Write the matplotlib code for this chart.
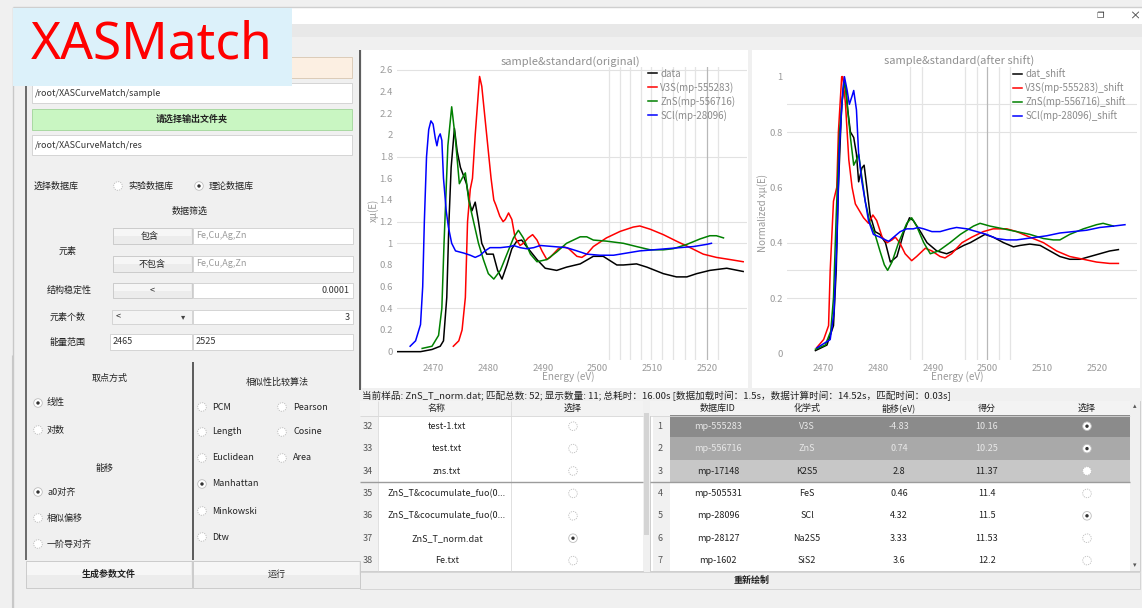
import matplotlib
matplotlib.use('Agg')
import matplotlib.pyplot as plt
from matplotlib.patches import Rectangle, Circle
from matplotlib.ticker import FuncFormatter

plt.rcParams['font.family'] = ['Noto Sans CJK SC', 'DejaVu Sans']

W, H = 1142, 608

# ---------------- data: original spectra ----------------
orig_data_x = [2463.3, 2467.6, 2469.7, 2471.2, 2471.8, 2472.4, 2472.8, 2473.2, 2473.8, 2474.3, 2474.9, 2475.5,
               2476.0, 2476.7, 2477.0, 2477.6, 2478.2, 2478.8, 2479.7, 2480.9, 2481.7, 2482.5, 2483.4, 2484.3,
               2485.2, 2486.1, 2487.0, 2488.9, 2490.4, 2492.5, 2494.3, 2496.8, 2499.2, 2501.0, 2503.5, 2504.7,
               2507.1, 2509.0, 2512.0, 2514.4, 2516.3, 2518.1, 2520.5, 2523.6, 2526.6]
orig_data_y = [0, 0, 0.02, 0.05, 0.1, 0.5, 1.2, 1.7, 2.06, 1.85, 1.7, 1.62,
               1.55, 1.35, 1.30, 1.38, 1.2, 1.0, 0.9, 0.9, 0.75, 0.67, 0.8, 0.95,
               1.02, 1.03, 0.97, 0.85, 0.77, 0.75, 0.78, 0.81, 0.88, 0.88, 0.8, 0.8,
               0.81, 0.78, 0.72, 0.69, 0.69, 0.72, 0.75, 0.77, 0.74]

orig_v3s_x = [2473.6, 2474.6, 2475.2, 2475.8, 2476.2, 2476.7, 2477.1, 2477.6, 2478.4, 2478.8, 2479.7, 2480.5,
              2481.0, 2481.4, 2482.1, 2482.7, 2483.1, 2483.7, 2484.3, 2484.9, 2485.8, 2486.4, 2487.3, 2488.1,
              2488.9, 2489.8, 2490.7, 2491.3, 2492.8, 2493.7, 2494.7, 2496.2, 2497.1, 2498.0, 2499.2, 2501.6,
              2504.1, 2506.5, 2507.7, 2509.6, 2512.0, 2514.4, 2516.9, 2519.3, 2521.7, 2524.2, 2526.6]
orig_v3s_y = [0.05, 0.1, 0.2, 0.5, 1.2, 1.5, 1.6, 2.0, 2.54, 2.45, 2.0, 1.6,
              1.4, 1.35, 1.25, 1.2, 1.22, 1.28, 1.22, 1.05, 0.98, 1.0, 1.05, 1.08,
              1.03, 0.93, 0.85, 0.87, 0.95, 0.97, 0.95, 0.88, 0.87, 0.9, 0.97, 1.05,
              1.11, 1.15, 1.16, 1.13, 1.08, 1.02, 0.96, 0.9, 0.87, 0.85, 0.83]

orig_zns_x = [2467.9, 2469.7, 2470.9, 2471.5, 2471.9, 2472.6, 2473.3, 2474.0, 2474.7, 2475.2, 2475.8, 2476.4,
              2477.3, 2478.2, 2479.1, 2480.0, 2481.0, 2482.2, 2483.4, 2484.6, 2485.5, 2486.4, 2487.7, 2488.9,
              2490.7, 2492.5, 2494.3, 2496.8, 2498.0, 2499.2, 2501.6, 2504.7, 2507.1, 2509.6, 2512.0, 2513.8,
              2516.3, 2518.7, 2520.5, 2521.7, 2523.0]
orig_zns_y = [0.03, 0.05, 0.15, 0.4, 1.0, 1.9, 2.26, 1.95, 1.55, 1.6, 1.65, 1.4,
              1.2, 1.0, 0.85, 0.72, 0.67, 0.75, 0.9, 1.05, 1.12, 1.05, 0.9, 0.83,
              0.85, 0.92, 1.0, 1.06, 1.06, 1.03, 1.02, 1.0, 0.97, 0.94, 0.94, 0.95,
              0.99, 1.04, 1.07, 1.07, 1.05]

orig_scl_x = [2465.7, 2466.7, 2467.6, 2468.0, 2468.3, 2468.7, 2469.1, 2469.5, 2469.9, 2470.3, 2470.6, 2470.9,
              2471.2, 2471.5, 2471.8, 2472.3, 2472.7, 2473.3, 2474.0, 2475.5, 2476.7, 2477.6, 2478.5, 2479.4,
              2480.3, 2482.2, 2484.0, 2484.6, 2485.8, 2487.0, 2488.3, 2489.5, 2491.9, 2494.3, 2496.2, 2498.0,
              2500.4, 2502.9, 2505.3, 2507.7, 2510.2, 2512.6, 2515.0, 2517.5, 2519.9, 2520.8]
orig_scl_y = [0.05, 0.1, 0.25, 0.6, 1.2, 1.8, 2.05, 2.13, 2.1, 1.97, 1.9, 1.98,
              2.01, 1.95, 1.6, 1.3, 1.15, 1.0, 0.93, 0.91, 0.89, 0.87, 0.89, 0.93,
              0.96, 0.96, 0.97, 0.98, 0.96, 0.95, 0.96, 0.98, 0.97, 0.96, 0.93, 0.9,
              0.89, 0.89, 0.91, 0.93, 0.94, 0.95, 0.96, 0.97, 0.99, 1.0]

# ---------------- data: shifted / normalized spectra ----------------
shift_data_x = [2468.5, 2470.6, 2471.8, 2472.3, 2472.7, 2473.3, 2473.8, 2474.1, 2474.4, 2474.9, 2475.5, 2476.0,
                2476.4, 2477.0, 2477.4, 2477.9, 2478.5, 2479.4, 2480.3, 2481.3, 2482.2, 2483.4, 2484.7, 2485.7,
                2486.4, 2487.7, 2488.9, 2490.7, 2492.5, 2493.7, 2495.6, 2496.8, 2498.6, 2499.5, 2501.0, 2502.9,
                2504.7, 2505.9, 2507.7, 2509.6, 2511.4, 2513.2, 2515.0, 2516.9, 2518.7, 2520.5, 2522.3, 2523.9]
shift_data_y = [0.01, 0.03, 0.1, 0.3, 0.6, 0.9, 0.98, 0.95, 0.88, 0.8, 0.78, 0.72,
                0.62, 0.67, 0.68, 0.6, 0.5, 0.44, 0.43, 0.4, 0.33, 0.35, 0.44, 0.49,
                0.48, 0.44, 0.4, 0.37, 0.36, 0.37, 0.39, 0.4, 0.42, 0.43, 0.42, 0.4,
                0.385, 0.39, 0.395, 0.39, 0.37, 0.35, 0.34, 0.34, 0.35, 0.36, 0.37, 0.375]

shift_v3s_x = [2468.7, 2470.0, 2470.9, 2471.2, 2471.8, 2472.4, 2472.7, 2473.3, 2473.5, 2474.0, 2474.6, 2475.2,
               2475.8, 2476.4, 2477.3, 2478.2, 2479.0, 2479.7, 2480.7, 2481.6, 2482.5, 2483.1, 2483.9, 2484.9,
               2486.1, 2487.0, 2488.6, 2489.8, 2491.3, 2492.2, 2493.4, 2495.3, 2497.1, 2499.2, 2501.0, 2503.5,
               2505.3, 2507.7, 2510.2, 2512.6, 2515.0, 2517.5, 2519.9, 2522.3, 2523.9]
shift_v3s_y = [0.02, 0.05, 0.1, 0.3, 0.55, 0.6, 0.8, 1.0, 1.0, 0.9, 0.7, 0.6,
               0.54, 0.52, 0.49, 0.47, 0.5, 0.48, 0.42, 0.4, 0.41, 0.42, 0.4, 0.36,
               0.335, 0.35, 0.38, 0.37, 0.35, 0.345, 0.36, 0.4, 0.42, 0.44, 0.45, 0.45,
               0.44, 0.42, 0.4, 0.37, 0.35, 0.34, 0.33, 0.325, 0.325]

shift_zns_x = [2468.5, 2470.3, 2471.3, 2471.8, 2472.3, 2472.9, 2473.7, 2474.0, 2474.4, 2474.9, 2475.5, 2476.0,
               2476.4, 2476.9, 2477.6, 2478.5, 2479.4, 2480.3, 2481.1, 2481.7, 2482.5, 2483.7, 2485.2, 2486.1,
               2487.0, 2488.3, 2489.5, 2491.0, 2493.1, 2495.0, 2497.4, 2498.6, 2500.4, 2502.9, 2505.3, 2507.7,
               2510.2, 2512.0, 2513.2, 2515.0, 2517.5, 2519.9, 2521.1, 2523.0]
shift_zns_y = [0.015, 0.03, 0.08, 0.2, 0.5, 0.8, 0.98, 0.96, 0.88, 0.78, 0.68, 0.70,
               0.72, 0.65, 0.55, 0.47, 0.43, 0.37, 0.32, 0.3, 0.33, 0.4, 0.47, 0.49,
               0.46, 0.4, 0.36, 0.37, 0.4, 0.43, 0.46, 0.47, 0.46, 0.45, 0.44, 0.43,
               0.415, 0.41, 0.41, 0.43, 0.45, 0.465, 0.47, 0.46]

shift_scl_x = [2468.8, 2471.2, 2471.9, 2472.4, 2472.9, 2473.5, 2473.8, 2474.3, 2474.7, 2475.2, 2475.5, 2476.0,
               2476.4, 2477.0, 2477.6, 2478.2, 2479.1, 2480.3, 2481.3, 2481.9, 2482.8, 2484.0, 2485.2, 2486.4,
               2487.3, 2488.3, 2489.8, 2491.3, 2493.1, 2494.3, 2496.2, 2498.0, 2499.8, 2501.6, 2503.5, 2505.3,
               2507.1, 2509.0, 2510.8, 2513.2, 2515.6, 2518.1, 2520.5, 2523.0, 2525.1]
shift_scl_y = [0.02, 0.05, 0.15, 0.4, 0.75, 0.95, 1.0, 0.95, 0.9, 0.93, 0.95, 0.88,
               0.72, 0.62, 0.55, 0.48, 0.43, 0.42, 0.41, 0.405, 0.42, 0.44, 0.45, 0.45,
               0.455, 0.45, 0.44, 0.44, 0.45, 0.455, 0.45, 0.44, 0.43, 0.415, 0.41, 0.41,
               0.415, 0.42, 0.425, 0.435, 0.44, 0.445, 0.455, 0.46, 0.465]

orig_labels = ['data', 'V3S(mp-555283)', 'ZnS(mp-556716)', 'SCl(mp-28096)']
shift_labels = ['dat_shift', 'V3S(mp-555283)_shift', 'ZnS(mp-556716)_shift', 'SCl(mp-28096)_shift']
curve_colors = ['#000000', '#ff0000', '#008000', '#0000ff']

orig_yticks = [0, 0.2, 0.4, 0.6, 0.8, 1.0, 1.2, 1.4, 1.6, 1.8, 2.0, 2.2, 2.4, 2.6]
shift_yticks = [0, 0.2, 0.4, 0.6, 0.8, 1.0]
energy_ticks = [2470, 2480, 2490, 2500, 2510, 2520]
orig_hgrid = [2.6, 1.8, 1.2, 1.0, 0.4]
orig_vgrid = [2502.0, 2504.0, 2505.9, 2508.0, 2509.8, 2511.7, 2513.8, 2515.9, 2517.8, 2519.9, 2522.0]
shift_hgrid = [0.9, 0.8, 0.4, 0.3, 0.2]
shift_vgrid = [2485.8, 2488.0, 2495.9, 2498.0, 2499.8, 2502.0, 2504.1]

# ---------------- data: tables ----------------
sample_row_ids = ['32', '33', '34', '35', '36', '37', '38']
sample_names = ['test-1.txt', 'test.txt', 'zns.txt', 'ZnS_T&cocumulate_fuo(0...',
                'ZnS_T&cocumulate_fuo(0...', 'ZnS_T_norm.dat', 'Fe.txt']
sample_checked = [False, False, False, False, False, True, False]

match_row_ids = ['1', '2', '3', '4', '5', '6', '7']
match_ids = ['mp-555283', 'mp-556716', 'mp-17148', 'mp-505531', 'mp-28096', 'mp-28127', 'mp-1602']
match_formulas = ['V3S', 'ZnS', 'K2S5', 'FeS', 'SCl', 'Na2S5', 'SiS2']
match_shifts = ['-4.83', '0.74', '2.8', '0.46', '4.32', '3.33', '3.6']
match_scores = ['10.16', '10.25', '11.37', '11.4', '11.5', '11.53', '12.2']
match_checked = [True, True, False, False, True, False, False]

status_text = ('当前样品: ZnS_T_norm.dat; 匹配总数: 52; 显示数量: 11; 总耗时：16.00s '
               '[数据加载时间：1.5s，数据计算时间：14.52s，匹配时间：0.03s]')

# ---------------- figure ----------------
fig = plt.figure(figsize=(W / 100, H / 100), dpi=100)
fig.patch.set_facecolor('#f0f0f0')
bg = fig.add_axes([0, 0, 1, 1])
bg.set_xlim(0, W)
bg.set_ylim(H, 0)
bg.axis('off')
bg.set_zorder(0)


def rect(x0, y0, x1, y1, fc, ec='none', lw=0.8, z=1):
    bg.add_patch(Rectangle((x0, y0), x1 - x0, y1 - y0, facecolor=fc, edgecolor=ec, linewidth=lw, zorder=z))


def txt(x, y, s, ha='left', size=6.5, color='#222222', weight='normal', z=6, **kw):
    bg.text(x, y, s, ha=ha, va='center', fontsize=size, color=color, fontweight=weight, zorder=z, **kw)


def hline(y, x0, x1, color, lw=0.8, z=3):
    bg.plot([x0, x1], [y, y], color=color, lw=lw, zorder=z, solid_capstyle='butt')


def vline(x, y0, y1, color, lw=0.8, z=3):
    bg.plot([x, x], [y0, y1], color=color, lw=lw, zorder=z, solid_capstyle='butt')


def radio(x, y, checked=False):
    bg.add_patch(Circle((x, y), 4.3, facecolor='white', edgecolor='#bdbdbd', linewidth=0.6,
                        linestyle='-' if checked else (0, (1.5, 1.2)), zorder=5))
    if checked:
        bg.add_patch(Circle((x, y), 1.7, facecolor='#333333', edgecolor='none', zorder=6))


def button(x0, y0, x1, y1, label, fc='#ececec', ec='#c6c6c6', size=6.5, bold=False, tx=None):
    rect(x0, y0, x1, y1, fc, ec, 0.6, z=2)
    rect(x0 + 1, y0 + 1, x1 - 1, (y0 + y1) / 2, '#f6f6f6' if fc == '#ececec' else fc, z=2)
    txt((x0 + x1) / 2 if tx is None else tx, (y0 + y1) / 2, label, ha='center', size=size,
        weight='bold' if bold else 'normal')


def field(x0, y0, x1, y1, s='', color='#333333', ha='left'):
    rect(x0, y0, x1, y1, 'white', '#cfcfcf', 0.6, z=2)
    if s:
        tx = x0 + 3 if ha == 'left' else x1 - 3
        txt(tx, (y0 + y1) / 2, s, ha=ha, color=color)


# window chrome
rect(13, 7, W, 24, 'white', z=1)
hline(7, 13, W, '#cfcfcf', 1.0)
rect(13, 24, W, 37, '#e8e8e8', z=1)
vline(13, 7, H, '#c8c8c8', 1.0)
txt(1100, 15.5, '❐', ha='center', size=6, color='#333333')
txt(1135, 15.5, '×', ha='center', size=8, color='#333333')

# ---------------- left control panel ----------------
vline(26, 50, 560, '#6a6a6a', 1.4)
vline(360, 50, 390, '#5a5a5a', 1.4)
rect(30, 57, 352, 78, '#fcefe2', '#dccbb8', 0.7, z=2)
field(32, 83, 352, 103, '/root/XASCurveMatch/sample')
rect(32, 109, 352, 130, '#c9f6c2', '#a9d9a2', 0.7, z=2)
txt(192, 119.5, '请选择输出文件夹', ha='center', weight='bold')
field(32, 135, 352, 155, '/root/XASCurveMatch/res')

txt(34, 186, '选择数据库')
radio(118, 186, False)
txt(128, 186, '实验数据库')
radio(199, 186, True)
txt(209, 186, '理论数据库')
txt(190, 211, '数据筛选', ha='center')

txt(68, 251, '元素', ha='center')
button(113, 228, 192, 244, '包含', tx=150)
field(193, 228, 353, 244, 'Fe,Cu,Ag,Zn', color='#9a9a9a')
button(113, 256, 192, 272, '不包含', tx=152)
field(193, 256, 353, 272, 'Fe,Cu,Ag,Zn', color='#9a9a9a')

txt(69, 290, '结构稳定性', ha='center')
button(113, 283, 192, 298, '<')
field(193, 283, 353, 298, '0.0001', ha='right')

txt(68, 317, '元素个数', ha='center')
rect(112, 310, 192, 324, '#f4f4f4', '#d0d0d0', 0.6, z=2)
txt(116, 317, '<')
txt(183, 317, '▾', ha='center', size=6, color='#444444')
field(193, 310, 353, 324, '3', ha='right')

txt(68, 342, '能量范围', ha='center')
field(110, 334, 192, 350, '2465')
field(193, 334, 353, 350, '2525')

# lower left panel
vline(193, 362, 560, '#5a5a5a', 1.4)
vline(12, 355, H, '#c8c8c8', 0.8)
txt(110, 378, '取点方式', ha='center')
radio(38, 403, True)
txt(47, 403, '线性')
radio(38, 430, False)
txt(47, 430, '对数')
txt(105, 468, '能移', ha='center')
radio(38, 492, True)
txt(47, 492, 'a0对齐')
radio(38, 518, False)
txt(47, 518, '相似偏移')
radio(38, 544, False)
txt(47, 544, '一阶导对齐')

txt(277, 382, '相似性比较算法', ha='center')
alg_rows = [(407, 'PCM', 'Pearson', False), (432, 'Length', 'Cosine', False),
            (458, 'Euclidean', 'Area', False), (484, 'Manhattan', None, True),
            (511, 'Minkowski', None, False), (537, 'Dtw', None, False)]
for yy, a, b, chk in alg_rows:
    radio(202, yy, chk)
    txt(212, yy, a)
    if b:
        radio(282, yy, False)
        txt(293, yy, b)

button(26, 561, 192, 588, '生成参数文件', bold=True)
button(193, 561, 360, 588, '运行')

# ---------------- chart panels ----------------
rect(362, 50, 748, 388, 'white', z=1)
rect(752, 50, 1140, 388, 'white', z=1)


def px_axes(x0, y0, x1, y1):
    return fig.add_axes([x0 / W, (H - y1) / H, (x1 - x0) / W, (y1 - y0) / H])


fmt = FuncFormatter(lambda v, p: f'{v:g}')


def style_axes(ax, xlim, ylim, yticks, hgrid, vgrid, dark_v):
    ax.set_zorder(2)
    ax.patch.set_alpha(0)
    ax.set_xlim(*xlim)
    ax.set_ylim(*ylim)
    for s in ax.spines.values():
        s.set_visible(False)
    ax.set_xticks(energy_ticks)
    ax.set_yticks(yticks)
    ax.yaxis.set_major_formatter(fmt)
    ax.xaxis.set_major_formatter(fmt)
    ax.tick_params(length=0, pad=3, labelsize=6.8, labelcolor='#9a9a9a')
    for g in hgrid:
        ax.axhline(g, color='#e2e2e2', lw=0.8, zorder=0)
    for g in vgrid:
        ax.axvline(g, color='#b8b8b8' if g == dark_v else '#e4e4e4', lw=0.9, zorder=0)


leg_kw = dict(loc='upper left', frameon=False, fontsize=7.0, handlelength=0.9, handletextpad=0.35,
              labelspacing=0.32, borderpad=0, borderaxespad=0)

axL = px_axes(397, 66.7, 747, 360)
style_axes(axL, (2463.3, 2527.3), (-0.077, 2.63), orig_yticks, orig_hgrid, orig_vgrid, 2519.9)
orig_series = [(orig_data_x, orig_data_y), (orig_v3s_x, orig_v3s_y), (orig_zns_x, orig_zns_y),
               (orig_scl_x, orig_scl_y)]
hL = []
for (xs, ys), c, lab in zip(orig_series, curve_colors, orig_labels):
    hL.append(axL.plot(xs, ys, color=c, lw=1.1, label=lab)[0])
legL = axL.legend(handles=hL, bbox_to_anchor=(0.717, 0.993), **leg_kw)
for t in legL.get_texts():
    t.set_color('#8a8a8a')

axR = px_axes(787, 66.7, 1137, 360)
style_axes(axR, (2463.3, 2527.3), (-0.024, 1.036), shift_yticks, shift_hgrid, shift_vgrid, 2499.8)
shift_series = [(shift_data_x, shift_data_y), (shift_v3s_x, shift_v3s_y), (shift_zns_x, shift_zns_y),
                (shift_scl_x, shift_scl_y)]
hR = []
for (xs, ys), c, lab in zip(shift_series, curve_colors, shift_labels):
    hR.append(axR.plot(xs, ys, color=c, lw=1.1, label=lab)[0])
legR = axR.legend(handles=hR, bbox_to_anchor=(0.646, 0.993), **leg_kw)
for t in legR.get_texts():
    t.set_color('#8a8a8a')

txt(570, 61.5, 'sample&standard(original)', ha='center', size=8.0, color='#8f8f8f')
txt(959, 61.5, 'sample&standard(after shift)', ha='center', size=8.0, color='#8f8f8f')
txt(568, 377, 'Energy (eV)', ha='center', size=7.2, color='#9a9a9a')
txt(957, 377, 'Energy (eV)', ha='center', size=7.2, color='#9a9a9a')
txt(373, 210, 'xμ(E)', ha='center', size=7, color='#9a9a9a', rotation=90)
txt(763, 213, 'Normalized xμ(E)', ha='center', size=7, color='#9a9a9a', rotation=90)

# ---------------- tables ----------------
txt(362, 395.5, status_text, size=6.9, color='#222222')
row_y0 = 415.0
row_h = 22.4

# sample table
rect(360, 401, 643, 571, 'white', '#c8c8c8', 0.6, z=1)
rect(360, 401, 643, 416, '#f3f3f3', z=1)
hline(416, 360, 643, '#d6d6d6', 0.6)
rect(360, 416, 378, 571, '#f1f1f1', z=1)
vline(511, 401, 571, '#dadada', 0.6)
vline(378, 401, 571, '#dadada', 0.6)
txt(437, 408.5, '名称', ha='center')
txt(573, 408.5, '选择', ha='center')
for i, (rid, nm, chk) in enumerate(zip(sample_row_ids, sample_names, sample_checked)):
    cy = row_y0 + row_h * (i + 0.5)
    txt(368, cy, rid, ha='center', color='#555555')
    txt(447, cy, nm, ha='center')
    radio(573, cy, chk)
hline(482, 360, 643, '#9c9c9c', 1.0)
rect(643, 401, 650, 571, '#f0f0f0', z=1)
rect(644, 413, 649, 535, '#d4d4d4', z=2)

# match table
rect(650, 401, 1140, 571, 'white', '#c8c8c8', 0.6, z=1)
rect(650, 401, 1130, 416, '#f3f3f3', z=1)
hline(416, 650, 1130, '#d6d6d6', 0.6)
rect(653, 416, 670, 571, '#f1f1f1', z=1)
rect(1130, 401, 1140, 571, '#f0f0f0', z=1)
txt(1135, 406, '▴', ha='center', size=5, color='#555555')
txt(1135, 565, '▾', ha='center', size=5, color='#555555')
headers = [(718, '数据库ID'), (807, '化学式'), (899, '能移(eV)'), (987, '得分'), (1087, '选择')]
for hx, hs in headers:
    txt(hx, 408.5, hs, ha='center')
row_fc = ['#8b8b8b', '#a9a9a9', '#c7c7c7']
for i in range(len(match_ids)):
    cy = row_y0 + row_h * (i + 0.5)
    tc = '#222222'
    if i < 3:
        rect(670, row_y0 + row_h * i, 1130, row_y0 + row_h * (i + 1), row_fc[i], z=1)
        if i < 2:
            tc = '#e8e8e8'
    txt(660, cy, match_row_ids[i], ha='center', color='#555555')
    txt(718, cy, match_ids[i], ha='center', color=tc)
    txt(807, cy, match_formulas[i], ha='center', color=tc)
    txt(899, cy, match_shifts[i], ha='center', color=tc)
    txt(987, cy, match_scores[i], ha='center', color=tc)
    radio(1087, cy, match_checked[i])
hline(482.2, 650, 1130, '#9c9c9c', 1.0)

# redraw button
rect(360, 572, 1140, 589, '#efefef', '#d2d2d2', 0.6, z=1)
txt(752, 580.5, '重新绘制', ha='center', weight='bold')

# ---------------- title overlay ----------------
rect(13, 8, 292, 86, '#dcf1fa', z=20)
bg.text(31, 45, 'XASMatch', ha='left', va='center', fontsize=37, color='#ff0000',
        family='Noto Sans', zorder=21)

fig.savefig('out.png', dpi=100, facecolor=fig.get_facecolor())
